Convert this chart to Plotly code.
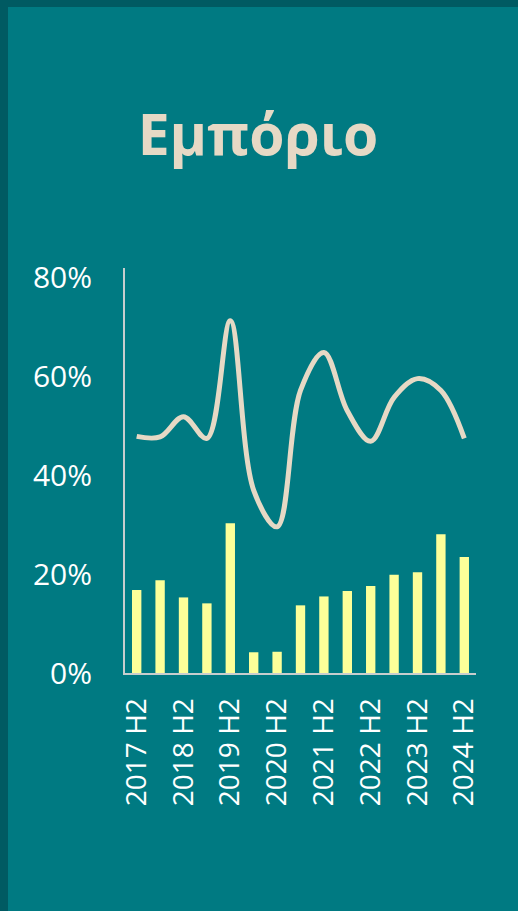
import plotly.graph_objects as go

categories = ["2017 H2", "2018 H1", "2018 H2", "2019 H1", "2019 H2", "2020 H1", "2020 H2",
              "2021 H1", "2021 H2", "2022 H1", "2022 H2", "2023 H1", "2023 H2", "2024 H1", "2024 H2"]
bar_values = [16.8, 18.8, 15.3, 14.1, 30.3, 4.2, 4.3, 13.7, 15.5, 16.6, 17.6, 19.9, 20.4, 28.1, 23.5]
line_values = [47.9, 47.8, 51.9, 47.5, 71.3, 37.0, 29.6, 57.2, 64.9, 53.1, 46.9, 55.8, 59.6, 57.2, 47.5]
shown_ticks = ["2017 H2", "2018 H2", "2019 H2", "2020 H2", "2021 H2", "2022 H2", "2023 H2", "2024 H2"]
y_ticks = [0, 20, 40, 60, 80]
title_text = "Εμπόριο"

TEAL = "#007A82"
DARK = "#005A62"
BEIGE = "#E6D9C5"

W, H = 518, 911
L, R, T, B = 125, 42, 268, 238
pw, ph = W - L - R, H - T - B

def px_x(p):
    return (p - L) / pw

def px_y(p):
    return (H - B - p) / ph

fig = go.Figure()
fig.add_trace(go.Bar(x=categories, y=bar_values, marker=dict(color="#FCFF99", line=dict(width=0)),
                     hoverinfo="skip"))
fig.add_trace(go.Scatter(x=categories, y=line_values, mode="lines",
                         line=dict(color=BEIGE, width=5, shape="spline", smoothing=1.0),
                         hoverinfo="skip"))

fig.update_layout(
    width=W, height=H,
    margin=dict(l=L, r=R, t=T, b=B),
    paper_bgcolor=DARK,
    plot_bgcolor="rgba(0,0,0,0)",
    showlegend=False,
    bargap=0.6,
    title=dict(text="<b>" + title_text + "</b>", x=258 / W, xanchor="center",
               y=1 - 135 / H, yanchor="middle",
               font=dict(family="Open Sans", size=57, color=BEIGE)),
    shapes=[dict(type="rect", xref="paper", yref="paper", layer="below",
                 x0=px_x(8), x1=px_x(W + 5), y0=px_y(H + 5), y1=px_y(7),
                 fillcolor=TEAL, line=dict(width=0))],
    xaxis=dict(
        type="category",
        tickmode="array", tickvals=shown_ticks, ticktext=shown_ticks,
        tickangle=-90,
        tickfont=dict(family="Open Sans", size=28, color="white"),
        showline=True, linecolor="#C8CDCD", linewidth=2,
        showgrid=False, zeroline=False, ticks="",
        ticklabelstandoff=12,
        range=[-0.5, len(categories) - 0.5],
    ),
    yaxis=dict(
        range=[0, 82],
        tickmode="array", tickvals=y_ticks, ticktext=[f"{v}%" for v in y_ticks],
        tickfont=dict(family="Open Sans", size=30, color="white"),
        showline=True, linecolor="#C8CDCD", linewidth=2,
        showgrid=False, zeroline=False, ticks="",
        ticklabelstandoff=25,
    ),
)

fig.write_html("out.html")
